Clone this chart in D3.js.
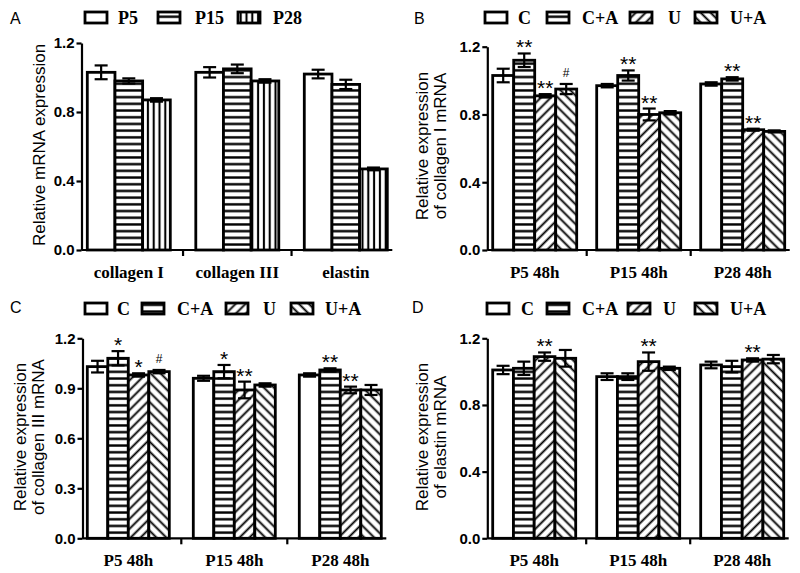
<!DOCTYPE html>
<html><head><meta charset="utf-8">
<script src="https://cdn.jsdelivr.net/npm/d3@7"></script>
<style>body{margin:0;background:#fff}</style>
</head><body><svg id="chart" width="800" height="573" xmlns="http://www.w3.org/2000/svg"></svg>
<script>
// ---------- DATA ----------
const panelACategories = ["collagen I", "collagen III", "elastin"];
const panelASeries = ["P5", "P15", "P28"];
const panelAValues = [[1.03, 0.98, 0.87], [1.03, 1.05, 0.98], [1.02, 0.96, 0.47]];
const panelAErrors = [[0.04, 0.015, 0.01], [0.03, 0.025, 0.01], [0.025, 0.027, 0.008]];
const panelAMarks = [["", "", ""], ["", "", ""], ["", "", ""]];

const timeCategories = ["P5 48h", "P15 48h", "P28 48h"];
const treatmentSeries = ["C", "C+A", "U", "U+A"];

const collagenIValues = [[1.03, 1.12, 0.91, 0.95], [0.97, 1.03, 0.80, 0.81], [0.98, 1.01, 0.71, 0.70]];
const collagenIErrors = [[0.04, 0.04, 0.01, 0.03], [0.01, 0.03, 0.035, 0.01], [0.01, 0.01, 0.006, 0.006]];
const collagenIMarks = [["", "**", "**", "#"], ["", "**", "**", ""], ["", "**", "**", ""]];

const collagenIIIValues = [[1.03, 1.08, 0.98, 1.00], [0.96, 1.00, 0.89, 0.92], [0.98, 1.01, 0.89, 0.89]];
const collagenIIIErrors = [[0.035, 0.043, 0.01, 0.01], [0.015, 0.04, 0.05, 0.01], [0.01, 0.01, 0.02, 0.03]];
const collagenIIIMarks = [["", "*", "*", "#"], ["", "*", "**", ""], ["", "**", "**", ""]];

const elastinValues = [[1.01, 1.02, 1.09, 1.08], [0.97, 0.97, 1.06, 1.02], [1.04, 1.03, 1.07, 1.075]];
const elastinErrors = [[0.025, 0.04, 0.025, 0.05], [0.02, 0.02, 0.055, 0.01], [0.02, 0.035, 0.01, 0.025]];
const elastinMarks = [["", "", "**", ""], ["", "", "**", ""], ["", "", "**", ""]];

const ticks04 = [0, 0.4, 0.8, 1.2];
const ticks03 = [0, 0.3, 0.6, 0.9, 1.2];

const panelALetters = ["A", "B", "C", "D"];
const panelATitle = ["Relative mRNA expression"];
const panelBTitle = ["Relative expression", "of collagen I mRNA"];
const panelCTitle = ["Relative expression", "of collagen III mRNA"];
const panelDTitle = ["Relative expression", "of elastin mRNA"];

const seriesPatternsA = ["none", "hl", "vl"];
const seriesPatternsT = ["none", "hl", "dr", "dl"];

// ---------- DRAW ----------
const svg = d3.select("#chart");
const SANS = "'Liberation Sans', Arial, sans-serif";
const SERIF = "'Liberation Serif', 'Times New Roman', serif";
const defs = svg.append("defs");

function pattern(id, w, h, rot, x1, y1, x2, y2, sw) {
  const p = defs.append("pattern").attr("id", id).attr("patternUnits", "userSpaceOnUse")
    .attr("width", w).attr("height", h);
  if (rot) p.attr("patternTransform", `rotate(${rot})`);
  p.append("rect").attr("width", w).attr("height", h).attr("fill", "#fff");
  p.append("line").attr("x1", x1).attr("y1", y1).attr("x2", x2).attr("y2", y2)
    .attr("stroke", "#000").attr("stroke-width", sw);
}
pattern("hl", 10, 6.7, 0, 0, 3.35, 10, 3.35, 2.4);
pattern("vl", 5.8, 10, 0, 2.9, 0, 2.9, 10, 2.1);
pattern("dr", 7, 10, 45, 3.5, 0, 3.5, 10, 1.9);
pattern("dl", 7, 10, -45, 3.5, 0, 3.5, 10, 1.9);

function fillOf(p) { return p === "none" ? "#fff" : `url(#${p})`; }

const panels = [
  { letter: panelALetters[0], lx: 10, ly: 24,
    cats: panelACategories, series: panelASeries, values: panelAValues, errors: panelAErrors, marks: panelAMarks,
    patterns: seriesPatternsA, ticks: ticks04,
    axisX: 81.5, yTop: 43, yBottom: 250, groupStart: 87.3, step: 108.5, groupWidth: 83,
    title: panelATitle, titleX: [45], titleY: 145,
    legendBox: [85, 158, 238], legendText: [118, 195, 273], legendY: 12 },
  { letter: panelALetters[1], lx: 414, ly: 24,
    cats: timeCategories, series: treatmentSeries, values: collagenIValues, errors: collagenIErrors, marks: collagenIMarks,
    patterns: seriesPatternsT, ticks: ticks04,
    axisX: 487.3, yTop: 46.7, yBottom: 250, groupStart: 492.7, step: 104, groupWidth: 84,
    title: panelBTitle, titleX: [428, 446], titleY: 146,
    legendBox: [485, 547, 630, 695], legendText: [518, 582, 668, 730], legendY: 12 },
  { letter: panelALetters[2], lx: 10, ly: 313,
    cats: timeCategories, series: treatmentSeries, values: collagenIIIValues, errors: collagenIIIErrors, marks: collagenIIIMarks,
    patterns: seriesPatternsT, ticks: ticks03,
    axisX: 82.5, yTop: 338.3, yBottom: 538.3, groupStart: 87.3, step: 106, groupWidth: 82,
    title: panelCTitle, titleX: [26, 44], titleY: 437,
    legendBox: [85, 142, 226, 291], legendText: [117, 177, 263, 325], legendY: 303 },
  { letter: panelALetters[3], lx: 412, ly: 313,
    cats: timeCategories, series: treatmentSeries, values: elastinValues, errors: elastinErrors, marks: elastinMarks,
    patterns: seriesPatternsT, ticks: ticks04,
    axisX: 487.3, yTop: 338.3, yBottom: 538.3, groupStart: 492.7, step: 104, groupWidth: 83,
    title: panelDTitle, titleX: [428, 446], titleY: 437,
    legendBox: [487, 547, 628, 695], legendText: [521, 582, 663, 730], legendY: 303 }
];

panels.forEach(cfg => {
  const g = svg.append("g");
  const y = d3.scaleLinear().domain([0, 1.2]).range([cfg.yBottom, cfg.yTop]);
  const pad = cfg.step - cfg.groupWidth;
  const r0 = cfg.groupStart - pad / 2;
  const x0 = d3.scaleBand().domain(cfg.cats)
    .range([r0, r0 + cfg.step * cfg.cats.length])
    .paddingInner(pad / cfg.step).paddingOuter(pad / cfg.step / 2);
  const x1 = d3.scaleBand().domain(cfg.series).range([0, x0.bandwidth()]);

  // panel letter
  g.append("text").attr("x", cfg.lx).attr("y", cfg.ly).text(cfg.letter)
    .attr("font-family", SANS).attr("font-size", 16).attr("fill", "#000");

  // legend
  cfg.series.forEach((s, j) => {
    g.append("rect").attr("x", cfg.legendBox[j]).attr("y", cfg.legendY).attr("width", 22).attr("height", 11)
      .attr("fill", fillOf(cfg.patterns[j])).attr("stroke", "#000").attr("stroke-width", 2.8);
    g.append("text").attr("x", cfg.legendText[j]).attr("y", cfg.legendY + 12).text(s)
      .attr("font-family", SERIF).attr("font-weight", "bold").attr("font-size", 18).attr("fill", "#000");
  });

  // bars
  const data = [];
  cfg.cats.forEach((c, i) => cfg.series.forEach((s, j) => data.push({
    c, s, j, v: cfg.values[i][j], e: cfg.errors[i][j], m: cfg.marks[i][j]
  })));
  g.selectAll("rect.bar").data(data).enter().append("rect").attr("class", "bar")
    .attr("x", d => x0(d.c) + x1(d.s)).attr("y", d => y(d.v))
    .attr("width", x1.bandwidth()).attr("height", d => y(0) - y(d.v))
    .attr("fill", d => fillOf(cfg.patterns[d.j])).attr("stroke", "#000").attr("stroke-width", 2.8);

  // error bars
  const cap = 6.5;
  const eg = g.selectAll("g.err").data(data).enter().append("g").attr("class", "err")
    .attr("stroke", "#000").attr("stroke-width", 2.2);
  eg.append("line").attr("x1", d => x0(d.c) + x1(d.s) + x1.bandwidth() / 2)
    .attr("x2", d => x0(d.c) + x1(d.s) + x1.bandwidth() / 2)
    .attr("y1", d => y(d.v - d.e)).attr("y2", d => y(d.v + d.e));
  [1, -1].forEach(sg => {
    eg.append("line")
      .attr("x1", d => x0(d.c) + x1(d.s) + x1.bandwidth() / 2 - cap)
      .attr("x2", d => x0(d.c) + x1(d.s) + x1.bandwidth() / 2 + cap)
      .attr("y1", d => y(d.v + sg * d.e)).attr("y2", d => y(d.v + sg * d.e));
  });

  // significance marks
  g.selectAll("text.mark").data(data.filter(d => d.m)).enter().append("text").attr("class", "mark")
    .attr("x", d => x0(d.c) + x1(d.s) + x1.bandwidth() / 2)
    .attr("y", d => d.m === "#" ? y(d.v + d.e) - 7 : y(d.v + d.e) + 1)
    .attr("text-anchor", "middle").attr("font-family", SANS)
    .attr("font-size", d => d.m === "#" ? 12 : 21).attr("fill", "#000")
    .text(d => d.m);

  // y axis
  const ya = g.append("g").attr("transform", `translate(${cfg.axisX},0)`)
    .call(d3.axisLeft(y).tickValues(cfg.ticks).tickFormat(d3.format(".1f")).tickSize(5).tickSizeOuter(0).tickPadding(2));
  ya.select(".domain").attr("stroke-width", 2.2);
  ya.selectAll(".tick line").attr("stroke-width", 2.2);
  ya.selectAll(".tick text").attr("font-family", SANS).attr("font-weight", "bold").attr("font-size", 15).attr("fill", "#000");

  // x axis
  const xEnd = x0.range()[1] - pad / 2 + 5;
  g.append("line").attr("x1", cfg.axisX).attr("x2", xEnd).attr("y1", y(0)).attr("y2", y(0))
    .attr("stroke", "#000").attr("stroke-width", 2.2);
  cfg.cats.slice(1).forEach(c => {
    const tx = x0(c) - pad / 2;
    g.append("line").attr("x1", tx).attr("x2", tx).attr("y1", y(0)).attr("y2", y(0) + 6)
      .attr("stroke", "#000").attr("stroke-width", 2.2);
  });
  const xa = g.append("g").attr("transform", `translate(0,${y(0)})`)
    .call(d3.axisBottom(x0).tickSize(0).tickSizeOuter(0));
  xa.select(".domain").remove();
  xa.selectAll(".tick text").attr("y", 28).attr("dy", 0)
    .attr("font-family", SERIF).attr("font-weight", "bold").attr("font-size", 17).attr("fill", "#000");

  // y title
  cfg.title.forEach((t, k) => {
    g.append("text").attr("transform", `translate(${cfg.titleX[k]},${cfg.titleY}) rotate(-90)`)
      .attr("text-anchor", "middle").attr("font-family", SANS).attr("font-size", 17).attr("fill", "#000")
      .text(t);
  });
});
</script></body></html>
